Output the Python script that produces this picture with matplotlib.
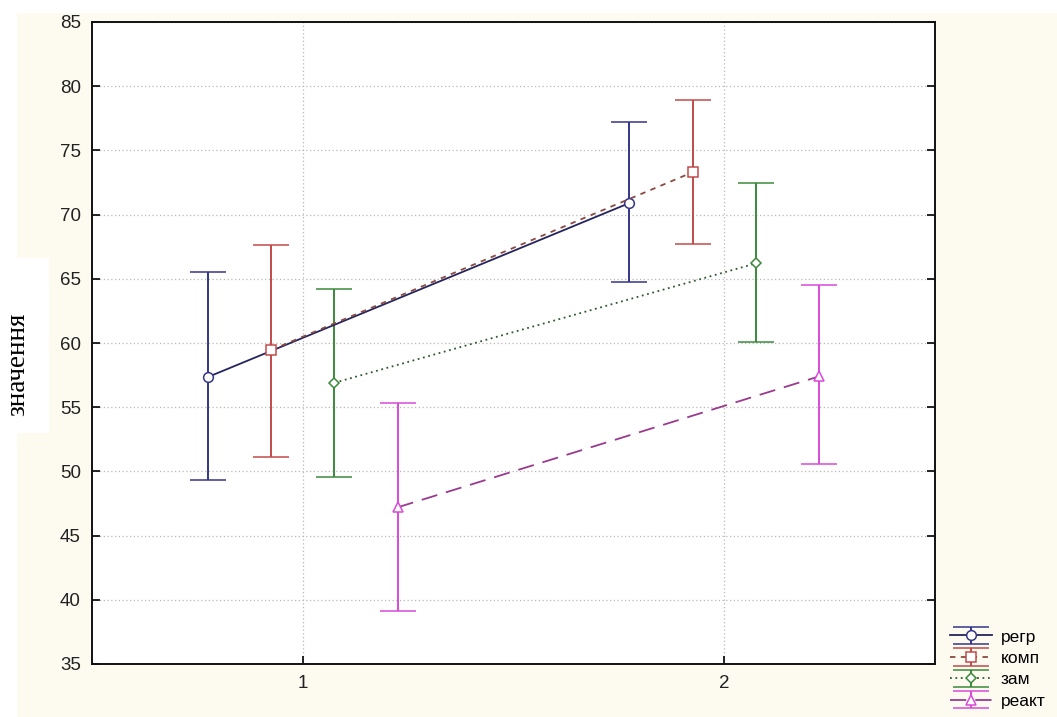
import matplotlib
matplotlib.use('Agg')
import matplotlib.pyplot as plt
from matplotlib.patches import Rectangle

# data
groups = [1, 2]
series = ['регр', 'комп', 'зам', 'реакт']
means = {
    'регр': [57.35, 70.9],
    'комп': [59.45, 73.3],
    'зам': [56.9, 66.2],
    'реакт': [47.2, 57.4],
}
lower = {
    'регр': [49.35, 64.75],
    'комп': [51.1, 67.7],
    'зам': [49.6, 60.1],
    'реакт': [39.1, 50.6],
}
upper = {
    'регр': [65.5, 77.2],
    'комп': [67.6, 78.9],
    'зам': [64.2, 72.45],
    'реакт': [55.3, 64.5],
}
yticks = [35, 40, 45, 50, 55, 60, 65, 70, 75, 80, 85]

offsets = [-0.225, -0.075, 0.075, 0.225]
bar_colors = ['#35358a', '#c24a4a', '#3a8a3a', '#d94ad9']
line_colors = ['#25255e', '#8a4a42', '#2f5a2f', '#9a3a8e']
line_styles = ['-', (0, (3, 3)), (0, (1, 2)), (0, (9, 5))]
markers = ['o', 's', 'D', '^']
msizes = [7, 7, 5.5, 7]

cream = '#fdfaf0'

fig = plt.figure(figsize=(10.57, 7.17), dpi=100, facecolor='white')
fig.patches.append(Rectangle((17 / 1057, 0), 1 - 17 / 1057, 1 - 13 / 717,
                             transform=fig.transFigure, facecolor=cream,
                             edgecolor='none', zorder=-10))
fig.patches.append(Rectangle((0, 1 - 433 / 717), 49 / 1057, 175 / 717,
                             transform=fig.transFigure, facecolor='white',
                             edgecolor='none', zorder=-9))

ax = fig.add_axes([92 / 1057, 53 / 717, 843 / 1057, 642 / 717])
ax.set_facecolor('white')

handles = []
for i, name in enumerate(series):
    xs = [g + offsets[i] for g in groups]
    ys = means[name]
    err_lo = [m - l for m, l in zip(ys, lower[name])]
    err_hi = [u - m for m, u in zip(ys, upper[name])]
    h = ax.errorbar(xs, ys, yerr=[err_lo, err_hi], fmt=markers[i],
                    color=line_colors[i], ecolor=bar_colors[i],
                    linestyle=line_styles[i], linewidth=1.3,
                    markerfacecolor='white', markeredgecolor=bar_colors[i],
                    markersize=msizes[i], markeredgewidth=1.1,
                    elinewidth=1.4, capsize=13, capthick=1.4, zorder=4,
                    label=name)
    handles.append(h)

ax.set_xlim(0.5, 2.5)
ax.set_ylim(35, 85)
ax.set_xticks(groups)
ax.set_yticks(yticks)
ax.tick_params(direction='in', length=6, width=1.2, labelsize=13.5,
               right=True, pad=8)
for lab in ax.get_xticklabels() + ax.get_yticklabels():
    lab.set_fontfamily(['Liberation Sans', 'DejaVu Sans'])
    lab.set_color('#222222')
ax.grid(True, color='#b8b8b8', linestyle=(0, (1, 2)), linewidth=0.9)
ax.set_axisbelow(True)
for sp in ax.spines.values():
    sp.set_linewidth(1.4)
    sp.set_color('#111111')

fig.text(18 / 1057, 1 - 364 / 717, 'значення', rotation=90, ha='center',
         va='center', fontsize=19.5, family=['Liberation Serif', 'DejaVu Serif'])

leg = fig.legend(handles=handles, labels=series, loc='lower left',
                 bbox_to_anchor=(940 / 1057, -0.003), frameon=False,
                 handlelength=2.4, handletextpad=0.5,
                 labelspacing=0.36, borderaxespad=0.2,
                 prop={'family': ['Liberation Sans', 'DejaVu Sans'], 'size': 12.5})

fig.savefig('out.png', dpi=100, facecolor=fig.get_facecolor())
